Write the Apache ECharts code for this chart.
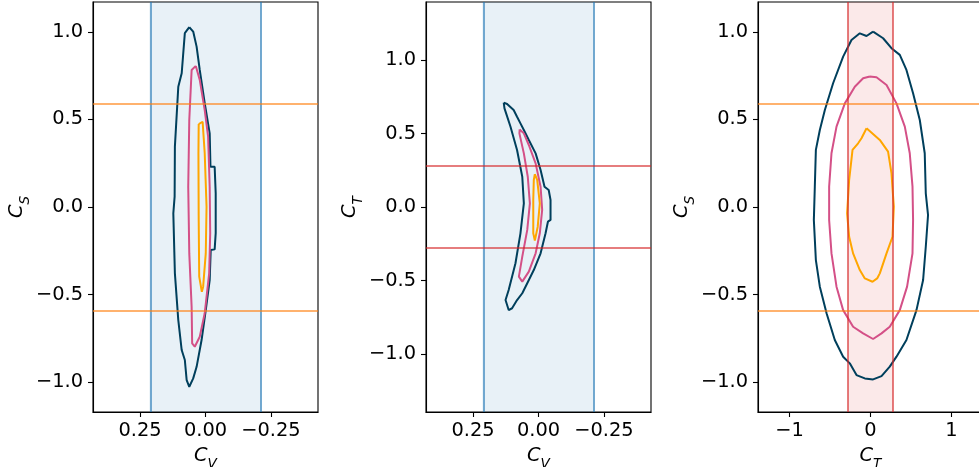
<!DOCTYPE html>
<html>
<head>
<meta charset="utf-8">
<script src="https://cdn.jsdelivr.net/npm/echarts@6/dist/echarts.min.js"></script>
<style>
  html, body { margin: 0; padding: 0; background: #fff; }
  #chart { width: 979px; height: 467px; }
</style>
</head>
<body>
<div id="chart"></div>
<script>
// contour outlines, [x, y]
const cvCsOuter = [[0.062,1.027],[0.047,1.002],[0.034,0.916],[0.022,0.783],[0.003,0.593],[-0.016,0.421],[-0.019,0.23],[-0.035,0.23],[-0.039,0.078],[-0.039,-0.149],[-0.035,-0.242],[-0.020,-0.246],[-0.016,-0.417],[-0.001,-0.589],[0.015,-0.760],[0.034,-0.913],[0.047,-0.979],[0.062,-1.027],[0.072,-0.989],[0.079,-0.874],[0.091,-0.817],[0.104,-0.646],[0.117,-0.379],[0.123,-0.036],[0.118,0.059],[0.117,0.345],[0.104,0.687],[0.091,0.764],[0.079,0.993],[0.062,1.027]];
const cvCsMid = [[0.037,0.806],[0.022,0.726],[0.003,0.554],[-0.010,0.402],[-0.016,0.116],[-0.018,-0.150],[-0.014,-0.379],[0.003,-0.607],[0.022,-0.741],[0.041,-0.798],[0.051,-0.779],[0.053,-0.570],[0.062,-0.265],[0.066,0.116],[0.062,0.497],[0.053,0.783],[0.037,0.806]];
const cvCsInner = [[0.026,0.474],[0.011,0.487],[0.003,0.307],[-0.004,0.002],[-0.001,-0.265],[0.009,-0.455],[0.014,-0.484],[0.024,-0.398],[0.026,-0.074],[0.027,0.307],[0.026,0.474]];

const cvCtOuter = [[0.133,0.710],[0.120,0.701],[0.095,0.660],[0.082,0.614],[0.069,0.569],[0.056,0.524],[0.037,0.456],[0.011,0.365],[-0.008,0.252],[-0.023,0.138],[-0.039,0.116],[-0.046,0.048],[-0.046,-0.088],[-0.036,-0.100],[-0.027,-0.179],[-0.008,-0.315],[0.018,-0.429],[0.043,-0.519],[0.062,-0.587],[0.082,-0.633],[0.101,-0.689],[0.114,-0.701],[0.126,-0.633],[0.114,-0.565],[0.088,-0.383],[0.069,-0.179],[0.056,0.025],[0.062,0.206],[0.082,0.388],[0.107,0.546],[0.130,0.671],[0.133,0.710]];
const cvCtMid = [[0.072,0.528],[0.056,0.501],[0.037,0.422],[0.011,0.297],[-0.008,0.138],[-0.014,-0.020],[-0.005,-0.179],[0.011,-0.315],[0.037,-0.440],[0.062,-0.508],[0.075,-0.474],[0.062,-0.338],[0.043,-0.156],[0.033,0.025],[0.041,0.206],[0.056,0.365],[0.073,0.501],[0.072,0.528]];
const cvCtInner = [[0.014,0.224],[0.005,0.184],[-0.005,0.025],[0.003,-0.134],[0.014,-0.229],[0.020,-0.179],[0.020,0.048],[0.018,0.184],[0.014,0.224]];

const ctCsOuter = [[0.032,1.002],[-0.049,0.977],[-0.132,0.992],[-0.235,0.954],[-0.338,0.859],[-0.462,0.707],[-0.564,0.554],[-0.626,0.44],[-0.675,0.326],[-0.688,0.116],[-0.700,-0.074],[-0.675,-0.303],[-0.626,-0.455],[-0.543,-0.607],[-0.441,-0.760],[-0.338,-0.855],[-0.256,-0.893],[-0.173,-0.960],[-0.070,-0.979],[0.032,-0.985],[0.136,-0.966],[0.238,-0.912],[0.321,-0.855],[0.444,-0.760],[0.568,-0.589],[0.650,-0.417],[0.683,-0.227],[0.711,-0.046],[0.683,0.078],[0.670,0.307],[0.609,0.497],[0.526,0.650],[0.444,0.783],[0.362,0.869],[0.259,0.907],[0.156,0.964],[0.032,1.002]];
const ctCsMid = [[-0.009,0.745],[0.074,0.741],[0.198,0.697],[0.321,0.592],[0.424,0.459],[0.485,0.307],[0.519,0.116],[0.526,-0.074],[0.519,-0.265],[0.452,-0.455],[0.362,-0.589],[0.238,-0.684],[0.136,-0.722],[0.032,-0.754],[-0.091,-0.722],[-0.215,-0.684],[-0.338,-0.589],[-0.420,-0.455],[-0.482,-0.265],[-0.511,-0.074],[-0.511,0.116],[-0.482,0.307],[-0.420,0.459],[-0.317,0.592],[-0.194,0.687],[-0.091,0.735],[-0.009,0.745]];
const ctCsInner = [[-0.049,0.450],[0.115,0.383],[0.217,0.316],[0.259,0.193],[0.288,0.002],[0.272,-0.170],[0.198,-0.265],[0.115,-0.379],[0.082,-0.408],[0.025,-0.427],[-0.070,-0.408],[-0.132,-0.360],[-0.215,-0.265],[-0.264,-0.170],[-0.289,-0.036],[-0.264,0.154],[-0.222,0.326],[-0.153,0.364],[-0.111,0.393],[-0.049,0.450]];

// reference bounds
const cvBound = 0.215;
const csBound = 0.587;
const ctBound = 0.28;

// ticks
const cvTicks = [-0.25, 0, 0.25];
const ctTicksX = [-1, 0, 1];
const yTicks = [-1, -0.5, 0, 0.5, 1];
const ctTicksY = [-1, -0.5, 0, 0.5, 1];

const FONT = 'DejaVu Sans';
const FS = 19.4;
const navy = '#003f5c', pink = '#d45087', amber = '#ffa600';
const blueLine = 'rgba(31,119,180,0.6)', blueFill = 'rgba(31,119,180,0.1)';
const redLine = 'rgba(214,39,40,0.6)', redFill = 'rgba(214,39,40,0.1)';
const orangeLine = 'rgba(255,127,14,0.6)';

function fmt(v, d) {
  const s = Math.abs(v).toFixed(d);
  return (v < -1e-9 ? '\u2212' : '') + s;
}

const richName = {
  c: { fontFamily: FONT, fontStyle: 'italic', fontSize: FS, color: '#000', verticalAlign: 'top', padding: [0, 0, 6, 0] },
  s: { fontFamily: FONT, fontStyle: 'italic', fontSize: 13.6, color: '#000', verticalAlign: 'bottom' }
};

function xAx(idx, min, max, ticks, dec, inverse, sub) {
  return {
    type: 'value', gridIndex: idx, min: min, max: max, inverse: inverse,
    name: '{c|C}{s|' + sub + '}', nameLocation: 'middle', nameGap: 34,
    nameTextStyle: { rich: richName },
    axisLine: { show: true, onZero: false, lineStyle: { color: '#000', width: 1.1 } },
    axisTick: { show: true, length: 5, customValues: ticks, lineStyle: { color: '#000', width: 1.1 } },
    axisLabel: { customValues: ticks, margin: 9, fontFamily: FONT, fontSize: FS, color: '#000',
      formatter: v => fmt(v, dec) },
    splitLine: { show: false }
  };
}

function yAx(idx, lim, ticks, sub) {
  return {
    type: 'value', gridIndex: idx, min: -lim, max: lim,
    name: '{c|C}{s|' + sub + '}', nameLocation: 'middle', nameGap: 59, nameRotate: 90,
    nameTextStyle: { rich: richName },
    axisLine: { show: true, onZero: false, lineStyle: { color: '#000', width: 1.1 } },
    axisTick: { show: true, length: 5, customValues: ticks, lineStyle: { color: '#000', width: 1.1 } },
    axisLabel: { customValues: ticks, margin: 10, fontFamily: FONT, fontSize: FS, color: '#000',
      formatter: v => fmt(v, 1) },
    splitLine: { show: false }
  };
}

function contour(idx, pts, color) {
  return {
    type: 'line', xAxisIndex: idx, yAxisIndex: idx, data: pts, showSymbol: false, symbol: 'none',
    lineStyle: { color: color, width: 2 }, z: 3, silent: true, animation: false
  };
}

function band(idx, lo, hi, fill) {
  return {
    type: 'line', xAxisIndex: idx, yAxisIndex: idx, data: [], z: 1, silent: true,
    markArea: { silent: true, itemStyle: { color: fill }, data: [[{ xAxis: lo }, { xAxis: hi }]] }
  };
}

function rules(idx, key, vals, color) {
  return {
    type: 'line', xAxisIndex: idx, yAxisIndex: idx, data: [], z: 4, silent: true,
    markLine: {
      silent: true, symbol: ['none', 'none'], label: { show: false }, animation: false,
      lineStyle: { color: color, width: 2, type: 'solid' },
      data: vals.map(v => ({ [key]: v }))
    }
  };
}

const grids = [
  { left: 93, top: 2, width: 225, height: 410 },
  { left: 426, top: 2, width: 225, height: 410 },
  { left: 758, top: 2, width: 225, height: 410 }
].map(g => Object.assign(g, {
  show: true, borderColor: '#000', borderWidth: 1.1, backgroundColor: 'transparent',
  containLabel: false, outerBoundsMode: 'none'
}));

const option = {
  animation: false,
  grid: grids,
  xAxis: [
    xAx(0, -0.43, 0.43, cvTicks, 2, true, 'V'),
    xAx(1, -0.43, 0.43, cvTicks, 2, true, 'V'),
    xAx(2, -1.39, 1.39, ctTicksX, 0, false, 'T')
  ],
  yAxis: [
    yAx(0, 1.171, yTicks, 'S'),
    yAx(1, 1.395, ctTicksY, 'T'),
    yAx(2, 1.171, yTicks, 'S')
  ],
  series: [
    band(0, -cvBound, cvBound, blueFill),
    rules(0, 'xAxis', [-cvBound, cvBound], blueLine),
    rules(0, 'yAxis', [-csBound, csBound], orangeLine),
    contour(0, cvCsOuter, navy),
    contour(0, cvCsMid, pink),
    contour(0, cvCsInner, amber),

    band(1, -cvBound, cvBound, blueFill),
    rules(1, 'xAxis', [-cvBound, cvBound], blueLine),
    rules(1, 'yAxis', [-ctBound, ctBound], redLine),
    contour(1, cvCtOuter, navy),
    contour(1, cvCtMid, pink),
    contour(1, cvCtInner, amber),

    band(2, -ctBound, ctBound, redFill),
    rules(2, 'xAxis', [-ctBound, ctBound], redLine),
    rules(2, 'yAxis', [-csBound, csBound], orangeLine),
    contour(2, ctCsOuter, navy),
    contour(2, ctCsMid, pink),
    contour(2, ctCsInner, amber)
  ]
};

const myChart = echarts.init(document.getElementById('chart'), null, { renderer: 'canvas' });
myChart.setOption(option);
</script>
</body>
</html>
